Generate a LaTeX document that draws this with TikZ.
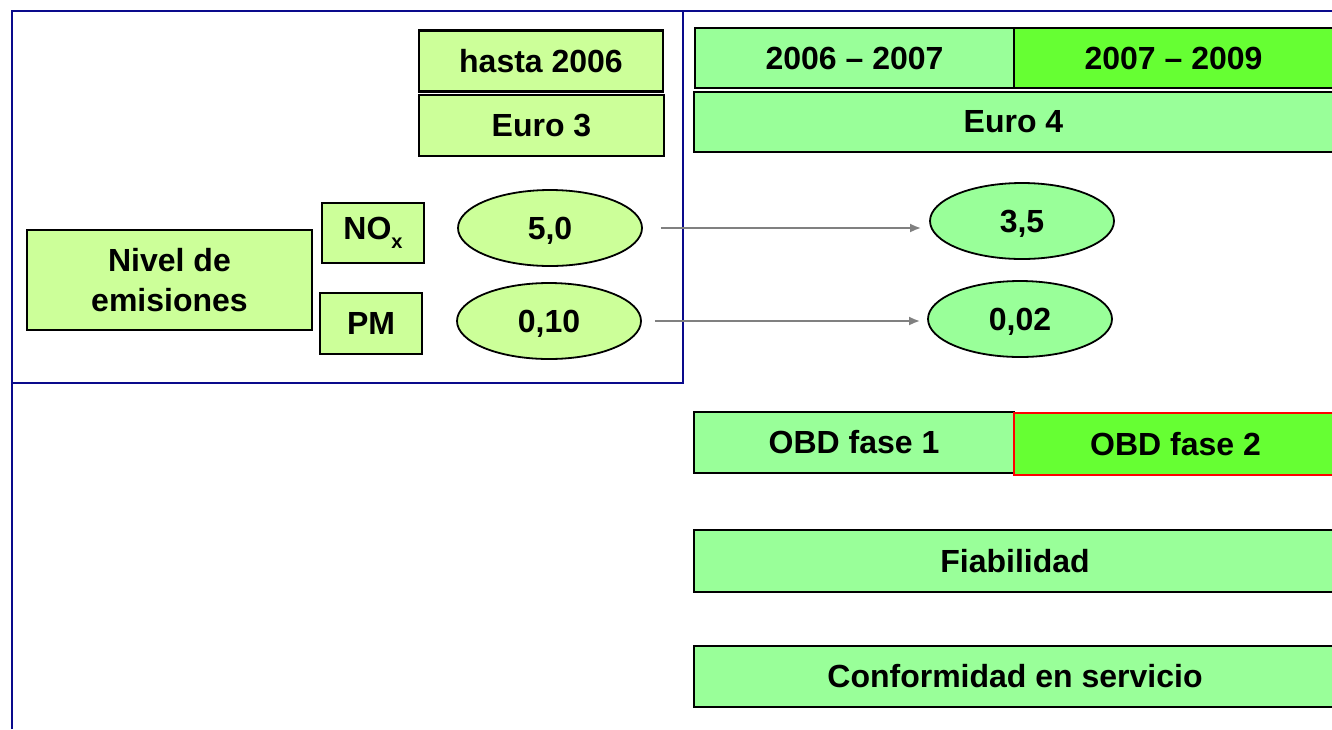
\documentclass[tikz,border=0pt]{standalone}
\usepackage{fontspec}
\setmainfont{Liberation Sans}
\usepackage{xcolor}
\definecolor{EuroPale}{RGB}{204,255,153}
\definecolor{EuroGreen}{RGB}{153,255,153}
\definecolor{EuroLime}{RGB}{102,255,51}
\definecolor{FrameBlue}{RGB}{10,10,140}
\usepackage{tikz}
\usetikzlibrary{shapes.geometric,arrows.meta}
\newcommand*{\lowsub}[1]{\raisebox{-0.3em}{\fontsize{20}{20}\selectfont #1}}

\begin{document}
\begin{tikzpicture}[x=1pt,y=-1pt,
    every node/.style={font=\bfseries\fontsize{32}{40}\selectfont,inner sep=0pt},
    cell/.style={draw=black,line width=2.5pt,rectangle},
    val/.style={draw=black,line width=1.8pt,ellipse,minimum width=184pt,minimum height=76pt,text depth=0pt},
    frame/.style={draw=FrameBlue,line width=2pt},
    flow/.style={-{Latex[length=11pt,width=9pt]},draw=gray,line width=2pt}]
    \useasboundingbox (0,0) rectangle (1332,729);
    \clip (0,0) rectangle (1332,729);
    % frame
    \draw[frame] (12,729) -- (12,11) -- (1332,11);
    \draw[frame] (12,383) -- (683,383) -- (683,11);
    % Euro 3 column
    \node[cell,fill=EuroPale,minimum width=244pt,minimum height=61pt] (hasta) at (541,61) {hasta 2006};
    \node[cell,fill=EuroPale,minimum width=245pt,minimum height=61pt] (euro3) at (541.5,125.5) {Euro 3};
    \node[cell,fill=EuroPale,minimum width=285pt,minimum height=100pt,align=center] (nivel) at (169.5,280) {Nivel de\\emisiones};
    \node[cell,fill=EuroPale,minimum width=102pt,minimum height=60pt] (nox) at (373,233) {NO\lowsub{x}};
    \node[cell,fill=EuroPale,minimum width=102pt,minimum height=61pt] (pm) at (371,323.5) {PM};
    \node[val,fill=EuroPale] (e50) at (550,228) {5,0};
    \node[val,fill=EuroPale] (e010) at (549,321) {0,10};
    % Euro 4 column
    \node[cell,fill=EuroGreen,minimum width=319pt,minimum height=60pt] (y06) at (854.5,58) {2006 -- 2007};
    \node[cell,fill=EuroLime,minimum width=331pt,minimum height=60pt] (y07) at (1179.5,58) {\hspace*{-12pt}2007 -- 2009};
    \node[cell,fill=EuroGreen,minimum width=651pt,minimum height=60pt] (euro4) at (1019.5,122) {\hspace*{-12pt}Euro 4};
    \node[val,fill=EuroGreen] (e35) at (1022,221) {3,5};
    \node[val,fill=EuroGreen] (e002) at (1020,319) {0,02};
    \draw[flow,shorten <=18pt,shorten >=8pt] (e50.east) -- (e50.east -| e35.west);
    \draw[flow,shorten <=13pt,shorten >=7pt] (e010.east) -- (e010.east -| e002.west);
    % OBD and the rest
    \node[cell,fill=EuroGreen,minimum width=320pt,minimum height=61pt] (obd1) at (854,442.5) {OBD fase 1};
    \node[cell,draw=red,fill=EuroLime,minimum width=331pt,minimum height=62pt] (obd2) at (1179.5,444) {\hspace*{-8pt}OBD fase 2};
    \node[cell,fill=EuroGreen,minimum width=651pt,minimum height=62pt] (fiab) at (1019.5,561) {\hspace*{-9pt}Fiabilidad};
    \node[cell,fill=EuroGreen,minimum width=651pt,minimum height=61pt] (conf) at (1019.5,676.5) {\hspace*{-9pt}Conformidad en servicio};
\end{tikzpicture}
\end{document}
